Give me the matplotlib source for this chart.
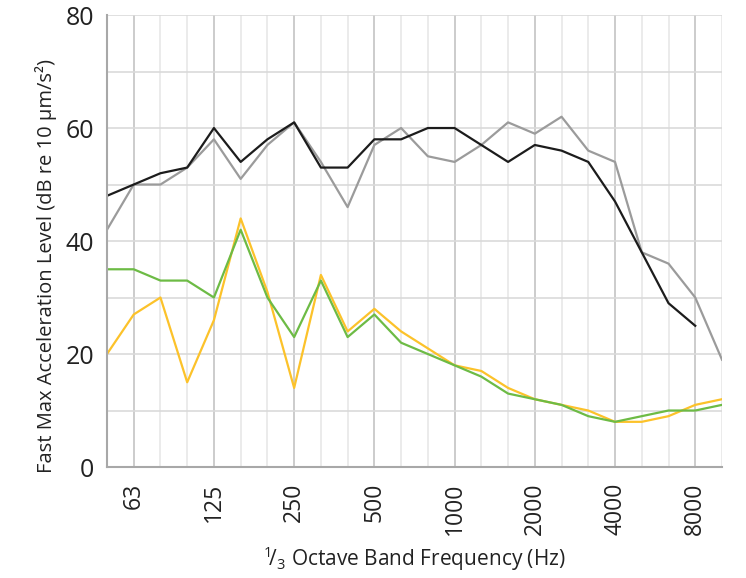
import matplotlib
matplotlib.use("Agg")
import matplotlib.pyplot as plt
import numpy as np

# 1/3 octave bands, 50 Hz .. 10 kHz
bands = [50, 63, 80, 100, 125, 160, 200, 250, 315, 400, 500, 630, 800,
         1000, 1250, 1600, 2000, 2500, 3150, 4000, 5000, 6300, 8000, 10000]
tick_labels = ["63", "125", "250", "500", "1000", "2000", "4000", "8000"]

black_vals = [48, 50, 52, 53, 60, 54, 58, 61, 53, 53, 58, 58, 60,
              60, 57, 54, 57, 56, 54, 47, 38, 29, 25, np.nan]
gray_vals = [42, 50, 50, 53, 58, 51, 57, 61, 54, 46, 57, 60, 55,
             54, 57, 61, 59, 62, 56, 54, 38, 36, 30, 19]
green_vals = [35, 35, 33, 33, 30, 42, 30, 23, 33, 23, 27, 22, 20,
              18, 16, 13, 12, 11, 9, 8, 9, 10, 10, 11]
yellow_vals = [20, 27, 30, 15, 26, 44, 31, 14, 34, 24, 28, 24, 21,
               18, 17, 14, 12, 11, 10, 8, 8, 9, 11, 12]

plt.rcParams['font.family'] = ['Open Sans', 'DejaVu Sans']
plt.rcParams['mathtext.fontset'] = 'custom'
plt.rcParams['mathtext.rm'] = 'Open Sans'

fig = plt.figure(figsize=(7.46, 5.78), dpi=100)
ax = fig.add_axes([0.1434, 0.192, 0.8244, 0.782])

x = np.arange(len(bands))

# grid: every band light, octave bands darker
for i in x:
    lbl = str(bands[i])
    col = "#c4c4c4" if lbl in tick_labels else "#e8e8e8"
    ax.axvline(i, color=col, lw=1.2, zorder=0)
for yv in range(10, 81, 10):
    ax.axhline(yv, color="#dadada", lw=1.2, zorder=0)

ax.plot(x, gray_vals, color="#9b9b9b", lw=1.6)
ax.plot(x, black_vals, color="#1c1c1c", lw=1.6)
ax.plot(x, yellow_vals, color="#fcc22a", lw=1.6)
ax.plot(x, green_vals, color="#6dbb45", lw=1.6)

ax.set_xlim(0, len(bands) - 1)
ax.set_ylim(0, 80)
ax.set_yticks([0, 20, 40, 60, 80])
tick_pos = [bands.index(int(t)) for t in tick_labels]
ax.set_xticks(tick_pos)
ax.set_xticklabels(tick_labels, rotation=90, va="top")
ax.tick_params(axis="y", length=0, labelsize=18, pad=9, colors="#222222")
ax.tick_params(axis="x", length=0, labelsize=16.5, pad=11, colors="#222222")

for s in ["top", "right"]:
    ax.spines[s].set_visible(False)
for s in ["left", "bottom"]:
    ax.spines[s].set_color("#a8a8a8")
    ax.spines[s].set_linewidth(1.5)

ax.set_ylabel("Fast Max Acceleration Level (dB re 10 μm/s²)", fontsize=14.5,
              color="#222222")
ax.yaxis.set_label_coords(-0.082, 0.445)
ax.set_xlabel(r"$^{1}\!/_{3}$ Octave Band Frequency (Hz)", fontsize=15,
              color="#222222", labelpad=7)

plt.savefig("out.png", dpi=100)
plt.close()
